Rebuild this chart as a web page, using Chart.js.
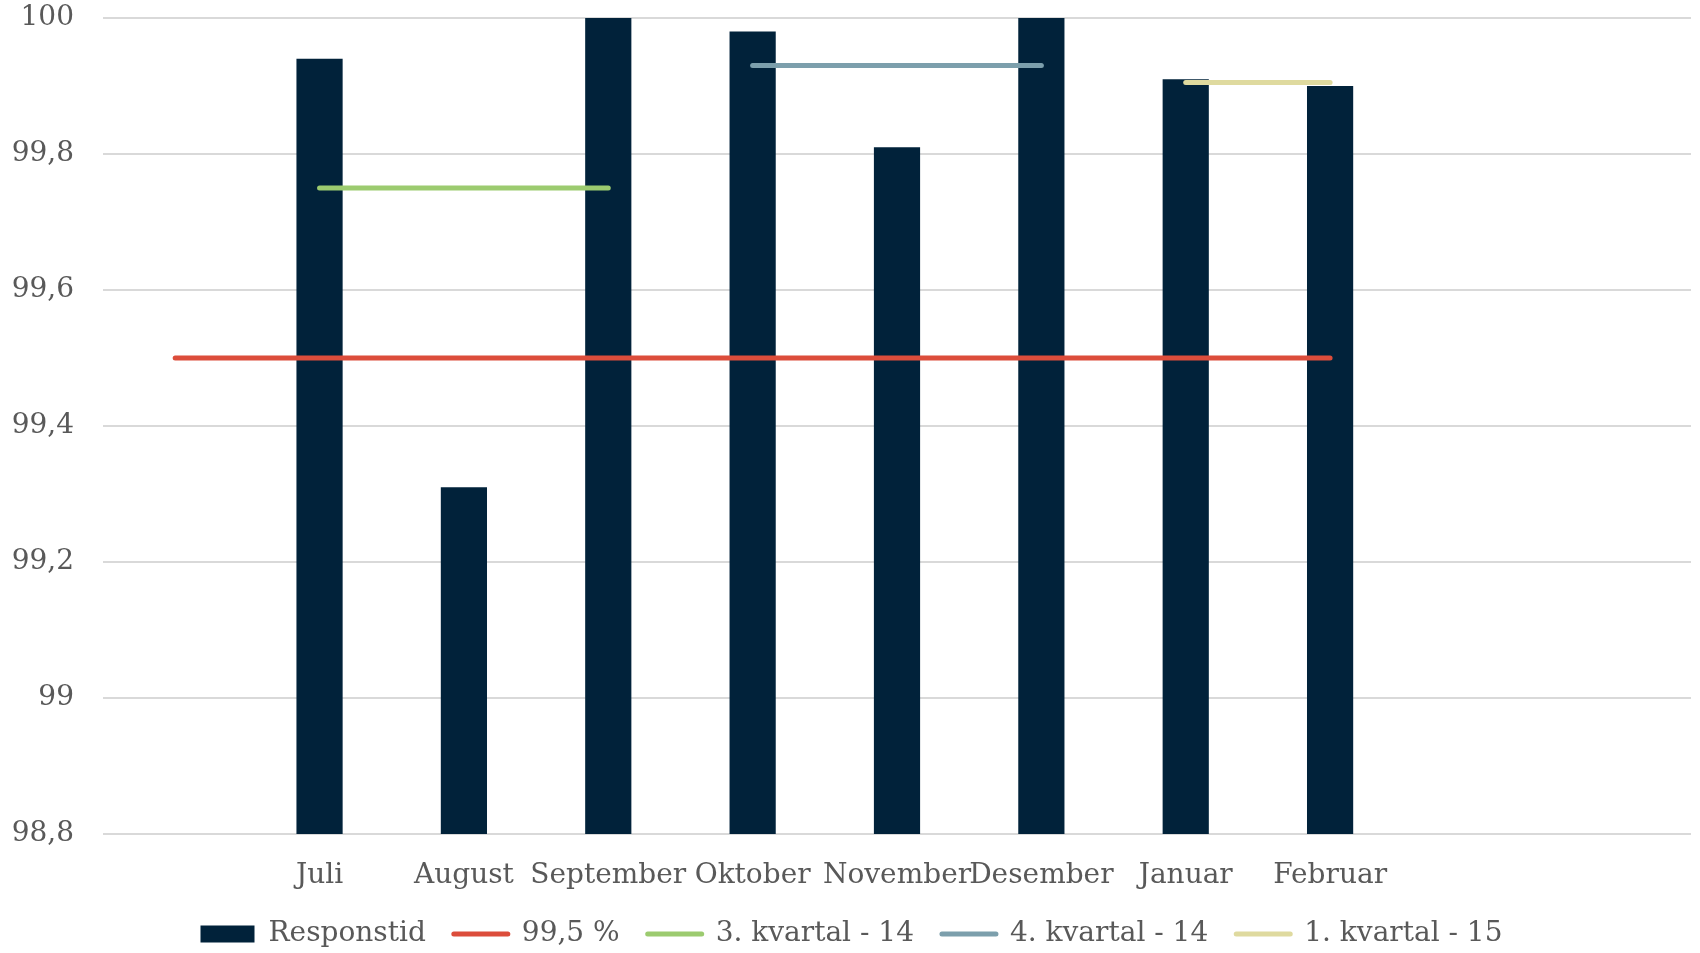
<!DOCTYPE html>
<html>
<head>
<meta charset="utf-8">
<script src="https://cdn.jsdelivr.net/npm/chart.js@4"></script>
<style>
  html, body { margin: 0; padding: 0; background: #fff; }
  #wrap { width: 1700px; height: 953px; }
</style>
</head>
<body>
<div id="wrap"><canvas id="chart"></canvas></div>
<script>
const months = ['', 'Juli', 'August', 'September', 'Oktober', 'November', 'Desember', 'Januar', 'Februar', '', ''];
const responstid = [null, 99.94, 99.31, 100, 99.98, 99.81, 100, 99.91, 99.90, null, null];
const target = [99.5, 99.5, 99.5, 99.5, 99.5, 99.5, 99.5, 99.5, 99.5, null, null];
const q3_14 = [null, 99.75, 99.75, 99.75, null, null, null, null, null, null, null];
const q4_14 = [null, null, null, null, 99.93, 99.93, 99.93, null, null, null, null];
const q1_15 = [null, null, null, null, null, null, null, 99.905, 99.905, null, null];
const yTicks = [98.8, 99, 99.2, 99.4, 99.6, 99.8, 100];

const textColor = '#595959';
const font = { family: "'DejaVu Serif', serif", size: 28 };

const lineSet = (label, data, color) => ({
    type: 'line',
    label,
    data,
    borderColor: color,
    backgroundColor: color,
    borderWidth: 5,
    borderCapStyle: 'round',
    pointRadius: 0,
    pointHoverRadius: 0,
    fill: false,
    order: 0
});

new Chart(document.getElementById('chart'), {
    type: 'bar',
    data: {
        labels: months,
        datasets: [
            {
                label: 'Responstid',
                data: responstid,
                backgroundColor: '#01223A',
                barPercentage: 0.32,
                categoryPercentage: 1,
                order: 1
            },
            lineSet('99,5 %', target, '#DC4D3B'),
            lineSet('3. kvartal - 14', q3_14, '#9CCB6F'),
            lineSet('4. kvartal - 14', q4_14, '#7C9FAC'),
            lineSet('1. kvartal - 15', q1_15, '#DFDA9F')
        ]
    },
    options: {
        responsive: true,
        maintainAspectRatio: false,
        animation: false,
        layout: { autoPadding: false, padding: { left: 12, right: 9, top: 18, bottom: -5 } },
        plugins: {
            tooltip: { enabled: false },
            legend: {
                position: 'bottom',
                labels: {
                    color: textColor,
                    font,
                    usePointStyle: true,
                    pointStyleWidth: 54,
                    boxHeight: 17,
                    padding: 28,
                    sort: (a, b) => a.datasetIndex - b.datasetIndex,
                    generateLabels: (chart) => {
                        const items = Chart.defaults.plugins.legend.labels.generateLabels(chart);
                        items.forEach(it => {
                            const ds = chart.data.datasets[it.datasetIndex];
                            it.pointStyle = ds.type === 'line' ? 'line' : 'rect';
                            if (ds.type === 'line') { it.lineWidth = 5; it.lineCap = 'round'; }
                            else { it.lineWidth = 0; }
                        });
                        return items;
                    }
                }
            }
        },
        scales: {
            x: {
                grid: { display: false },
                border: { display: false },
                ticks: { color: textColor, font, autoSkip: false, maxRotation: 0, padding: 17 },
                afterFit: (axis) => {
                    axis.height = 58;
                    axis.paddingLeft = 0;
                    axis.paddingRight = 0;
                }
            },
            y: {
                min: 98.8,
                max: 100,
                afterBuildTicks: (axis) => { axis.ticks = yTicks.map(v => ({ value: v })); },
                grid: { color: '#D9D9D9', lineWidth: 2, drawTicks: false },
                border: { display: false },
                ticks: {
                    color: textColor,
                    font,
                    padding: 29,
                    callback: (v) => String(v).replace('.', ',')
                },
                afterFit: (axis) => {
                    axis.width = 91;
                    axis.paddingTop = 0;
                    axis.paddingBottom = 0;
                }
            }
        }
    }
});
</script>
</body>
</html>
